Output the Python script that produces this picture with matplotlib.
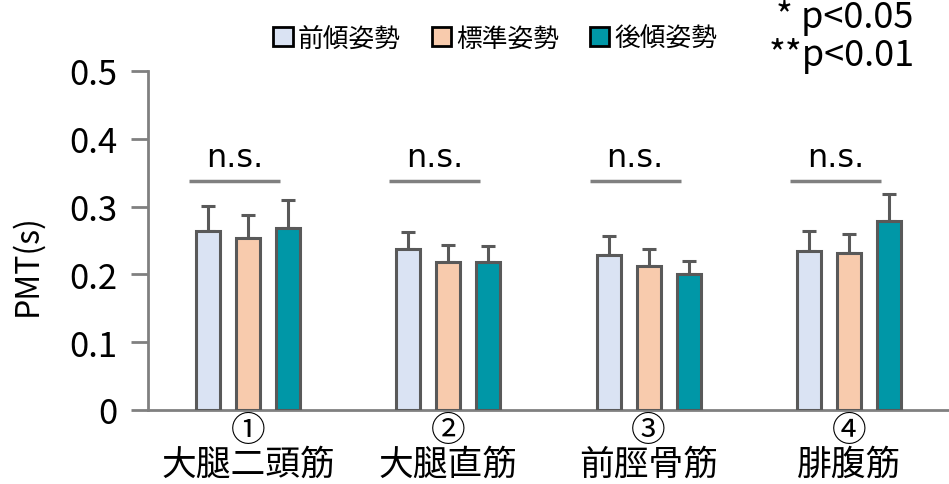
import numpy as np
import matplotlib.pyplot as plt
from matplotlib.patches import Patch

plt.rcParams['font.family'] = ['Noto Sans CJK JP', 'DejaVu Sans']

# data
muscles = ['①\n大腿二頭筋', '②\n大腿直筋', '③\n前脛骨筋', '④\n腓腹筋']
series = ['前傾姿勢', '標準姿勢', '後傾姿勢']
forward = [0.264, 0.237, 0.229, 0.234]
standard = [0.253, 0.219, 0.213, 0.232]
backward = [0.269, 0.219, 0.200, 0.278]
forward_sd = [0.037, 0.026, 0.028, 0.030]
standard_sd = [0.035, 0.025, 0.025, 0.028]
backward_sd = [0.040, 0.023, 0.020, 0.040]
sig_labels = ['n.s.', 'n.s.', 'n.s.', 'n.s.']
sig_height = 0.337

colors = ['#dae3f3', '#f8cbad', '#0097a7']
edge = '#595959'
axis_gray = '#808080'

fig = plt.figure(figsize=(9.49, 4.85), dpi=100)
ax = fig.add_axes([0.156, 0.1526, 0.844, 0.699])

x = np.arange(len(muscles))
width = 0.12
offsets = [-0.2, 0.0, 0.2]
for vals, errs, col, off in zip([forward, standard, backward],
                                [forward_sd, standard_sd, backward_sd],
                                colors, offsets):
    ax.bar(x + off, vals, width, color=col, edgecolor=edge, linewidth=2.2, zorder=3)
    ax.errorbar(x + off, vals, yerr=[np.zeros(len(errs)), errs], fmt='none',
                ecolor=edge, elinewidth=2.2, capsize=5, capthick=2.2, zorder=2)

# n.s. brackets
for xi, lab in zip(x, sig_labels):
    ax.plot([xi - 0.295, xi + 0.16], [sig_height, sig_height], color=axis_gray, lw=2.5,
            solid_capstyle='butt')
    ax.text(xi - 0.068, sig_height + 0.012, lab, ha='center', va='bottom',
            fontsize=23, family='DejaVu Sans')

ax.set_xlim(-0.5, 3.5)
ax.set_ylim(0, 0.5)
ax.set_yticks([0, 0.1, 0.2, 0.3, 0.4, 0.5])
ax.set_yticklabels(['0', '0.1', '0.2', '0.3', '0.4', '0.5'])
ax.set_xticks(x)
ax.set_xticklabels(muscles, fontsize=25, linespacing=0.95)
ax.tick_params(axis='x', length=0, pad=2)
ax.tick_params(axis='y', labelsize=25, length=12, width=2, color=axis_gray, pad=10)
for s in ['top', 'right']:
    ax.spines[s].set_visible(False)
for s in ['left', 'bottom']:
    ax.spines[s].set_color(axis_gray)
    ax.spines[s].set_linewidth(2)

ax.set_ylabel('PMT(s)', fontsize=23)
ax.yaxis.set_label_coords(-0.131, 0.43)

handles = [Patch(facecolor=c, edgecolor='black', linewidth=2) for c in colors]
fig.legend(handles, series, loc='center', bbox_to_anchor=(0.522, 0.918), ncol=3,
           frameon=False, fontsize=18.5, handlelength=0.75, handleheight=0.75,
           handletextpad=0.2, columnspacing=1.2)

fig.text(0.818, 0.963, '* p<0.05', ha='left', va='center', fontsize=26)
fig.text(0.810, 0.885, '**p<0.01', ha='left', va='center', fontsize=26)

fig.savefig('out.png', dpi=100)
